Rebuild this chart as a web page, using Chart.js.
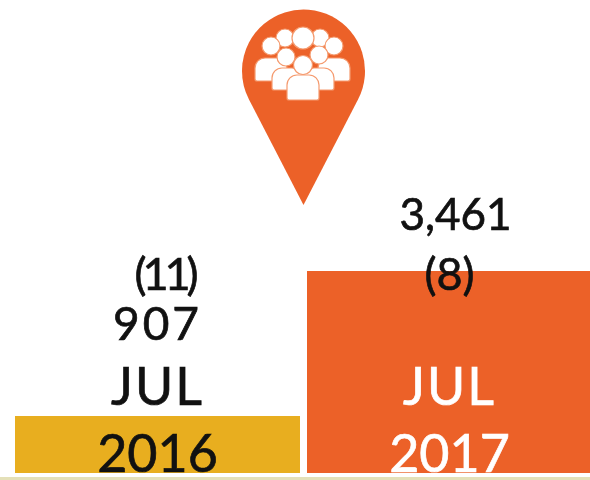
<!DOCTYPE html>
<html>
<head>
<meta charset="utf-8">
<style>
  html, body { margin: 0; padding: 0; background: #fff; overflow: hidden; }
  #wrap { position: relative; width: 590px; height: 480px; overflow: hidden; }
  #strip { position: absolute; left: 0; top: 477px; width: 590px; height: 3px; background: #e4e0b8; }
</style>
<script src="https://cdn.jsdelivr.net/npm/chart.js@4"></script>
</head>
<body>
<div id="wrap">
  <canvas id="bar-canvas" width="600" height="480"></canvas>
  <div id="strip"></div>
</div>
<script>
var months = ["JUL", "JUL"];
var years = ["2016", "2017"];
var people = [907, 3461];
var changes = ["(11)", "(8)"];
var barColors = ["#e8ae1f", "#ec6128"];

var font = "Lato, sans-serif";

// the stroke thickens Lato a bit, the original type is heavier
function put(ctx, text, x, y, size, color, spacing) {
  ctx.font = size + "px " + font;
  ctx.letterSpacing = (spacing || 0) + "px";
  ctx.fillStyle = color;
  ctx.strokeStyle = color;
  ctx.lineWidth = 0.7;
  ctx.textAlign = "center";
  ctx.textBaseline = "alphabetic";
  ctx.fillText(text, x, y);
  ctx.strokeText(text, x, y);
}

function head(ctx, x, y, r) {
  ctx.beginPath();
  ctx.arc(x, y, r, 0, Math.PI * 2);
  ctx.fill();
  ctx.stroke();
}

function body(ctx, x, top, w, bottom) {
  ctx.beginPath();
  ctx.roundRect(x - w, top, w * 2, bottom - top, [10, 10, 2, 2]);
  ctx.fill();
  ctx.stroke();
}

var pinPlugin = {
  id: "pin",
  afterDraw: function(chart) {
    var ctx = chart.ctx;
    var cx = 303.5, cy = 71, r = 61.5, tipY = 205;
    var a = Math.acos(r / (tipY - cy));
    ctx.save();
    ctx.fillStyle = "#ec6128";
    ctx.beginPath();
    ctx.moveTo(cx, tipY);
    ctx.arc(cx, cy, r, Math.PI / 2 - a, Math.PI / 2 + a, true);
    ctx.closePath();
    ctx.fill();

    // crowd icon, back row first so the overlaps stay visible
    ctx.fillStyle = "#fff";
    ctx.strokeStyle = "#f59a6e";
    ctx.lineWidth = 1.2;
    head(ctx, 285, 38, 9);
    head(ctx, 320, 38, 9);
    head(ctx, 303, 38, 11);
    body(ctx, 271, 58, 16, 81);
    body(ctx, 334, 58, 16, 81);
    head(ctx, 271, 46, 9);
    head(ctx, 334, 46, 9);
    body(ctx, 287, 68, 15, 90);
    body(ctx, 319, 68, 15, 90);
    head(ctx, 286, 57, 9);
    head(ctx, 319, 55, 9);
    body(ctx, 303, 75, 16, 100);
    head(ctx, 303, 65, 9.5);
    ctx.restore();
  }
};

var labelPlugin = {
  id: "barLabels",
  afterDatasetsDraw: function(chart) {
    var ctx = chart.ctx;
    var bars = chart.getDatasetMeta(0).data;
    var xLeft = bars[0].x, xRight = bars[1].x;
    ctx.save();
    put(ctx, changes[0], xLeft + 7, 290, 45, "#111", -4);
    put(ctx, people[0].toLocaleString("en-US"), xLeft, 340, 46, "#111", 3);
    put(ctx, months[0], xLeft, 405, 52, "#111", 2);
    put(ctx, years[0], xLeft, 472, 52, "#111", 0);

    put(ctx, people[1].toLocaleString("en-US"), xRight + 6, 230, 44, "#111", 0);
    put(ctx, changes[1], xRight, 290, 45, "#111", 0);
    put(ctx, months[1], xRight, 405, 52, "#fff", 2);
    put(ctx, years[1], xRight, 472, 52, "#fff", 0);
    ctx.restore();
  }
};

var chart = new Chart(document.getElementById("bar-canvas"), {
  type: "bar",
  data: {
    labels: years,
    datasets: [{
      data: people,
      base: -97,
      backgroundColor: barColors,
      borderWidth: 0,
      barPercentage: 285 / 292,
      categoryPercentage: 1
    }]
  },
  options: {
    responsive: false,
    animation: false,
    layout: { padding: { left: 11.5, right: 4.5, top: 271, bottom: 7 } },
    plugins: { legend: { display: false }, tooltip: { enabled: false }, title: { display: false } },
    scales: {
      x: { display: false },
      y: { display: false, min: -97, max: 3461 }
    }
  },
  plugins: [labelPlugin, pinPlugin]
});
</script>
</body>
</html>
